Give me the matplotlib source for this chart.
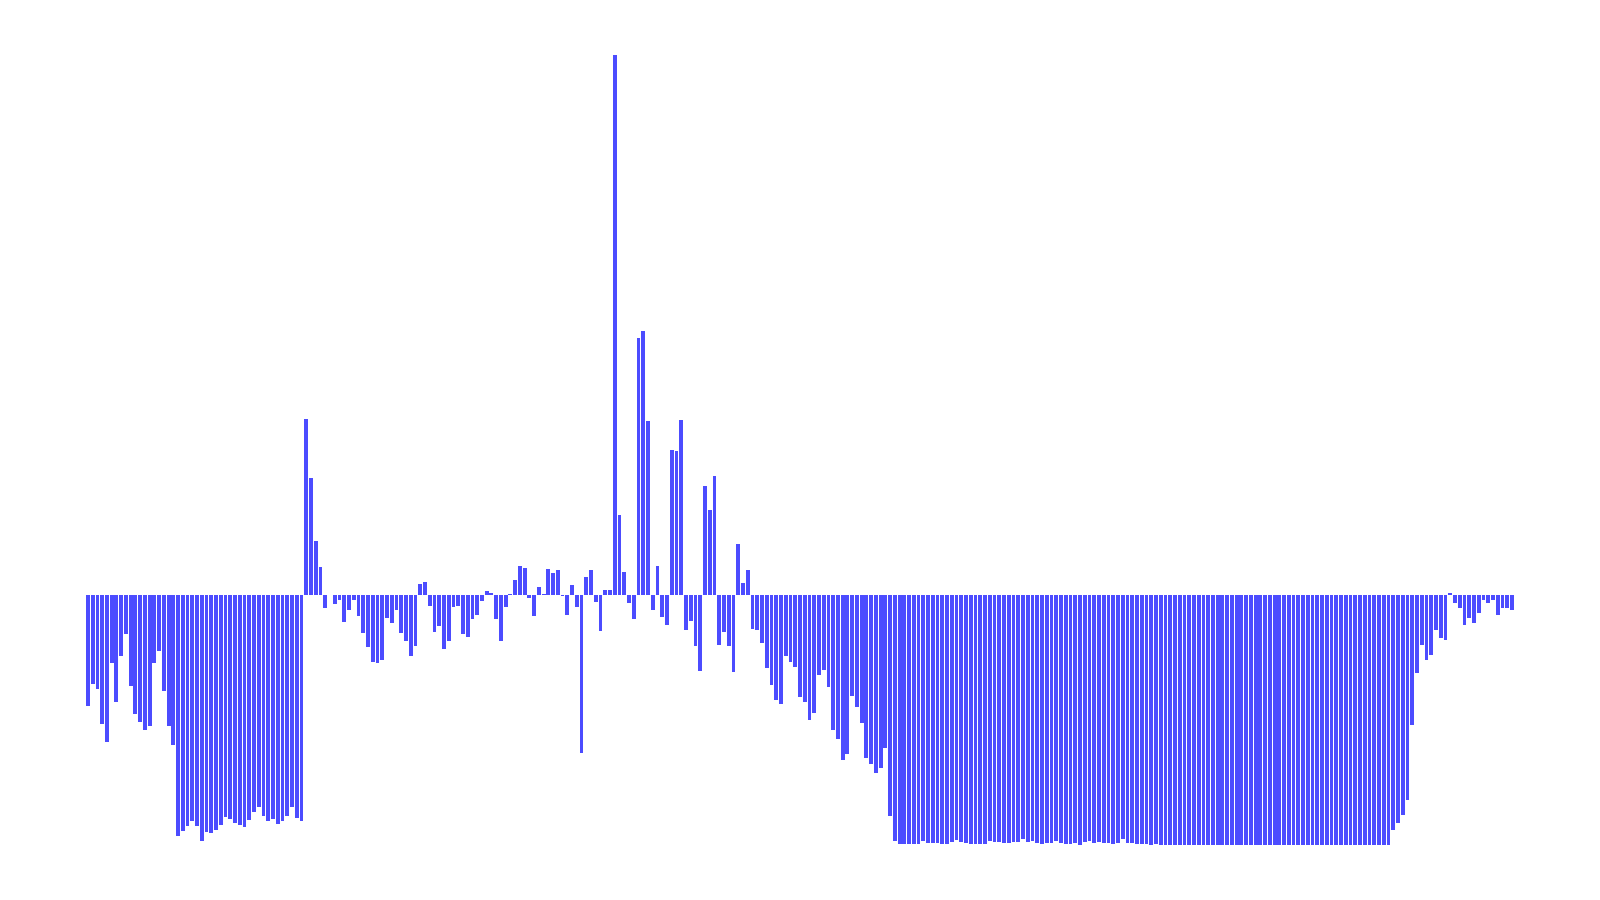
import numpy as np
import matplotlib
matplotlib.use("Agg")
import matplotlib.pyplot as plt

# bar heights (arbitrary units, 0 = baseline)
head = [-111, -89, -94, -129, -147, -68, -107, -61, -39, -91,
        -119, -127, -135, -131, -68, -56, -96, -131, -150, -241,
        -236, -231, -226, -231, -246, -237, -238, -235, -230, -222,
        -224, -228, -230, -232, -225, -217, -212, -221, -226, -224,
        -229, -226, -221, -212, -223, -226]
early = [176, 117, 54, 28, -13, 0, -9, -5, -27, -15,
         -5, -21, -38, -52, -67, -68, -65, -23, -28, -15,
         -38, -46, -61, -51, 11, 13, -11, -37, -31, -54,
         -46, -12, -11, -39, -42, -24, -20, -6, 4, 2,
         -24, -46, -12, 1, 15, 29, 27, -3]
middle = [-21, 8, 1, 26, 22, 25, -1, -20, 10, -12,
          -158, 18, 25, -7, -36, 5, 5, 540, 80, 23,
          -8, -24, 257, 264, 174, -15, 29, -22, -30, 145,
          144, 175, -35, -26, -51, -76, 109, 85, 119, -50,
          -37, -51, -77, 51, 12, 25, -34]
descent = [-35, -48, -73, -90, -105, -109, -61, -67, -72, -102,
           -107, -125, -118, -80, -75, -92, -135, -144, -165, -159,
           -101, -112, -128, -163, -169, -178, -173, -153, -221, -246,
           -249]
floor = [-249, -249, -249, -249, -246, -248, -248, -248, -249, -249,
         -247, -245, -247, -248, -249, -249, -249, -249, -246, -247,
         -247, -248, -248, -247, -247, -244, -247, -246, -248, -249,
         -248, -248, -246, -248, -249, -249, -248, -250, -247, -246,
         -248, -247, -248, -248, -249, -248, -244, -248, -248, -249,
         -249, -249, -250]
plateau = [-249] + [-250] * 49
tail = [-235, -228, -220, -205, -130, -78, -50, -65, -60, -35,
        -43, -45, 2, -8, -13, -30, -23, -28, -18, -5,
        -8, -5, -20, -13, -13, -15]

values = np.array(head + early + middle + descent + floor + plateau + tail)
index = np.arange(len(values))

fig = plt.figure(figsize=(16, 9), dpi=100)
ax = fig.add_axes([0, 0, 1, 1])
ax.bar(index, values, width=0.8, color="#4c4cff", lw=0)

ax.set_xlim(-18.52, 318.55)
ax.set_ylim(-305, 595)
ax.axis("off")

fig.savefig("out.png", dpi=100, facecolor="white")
